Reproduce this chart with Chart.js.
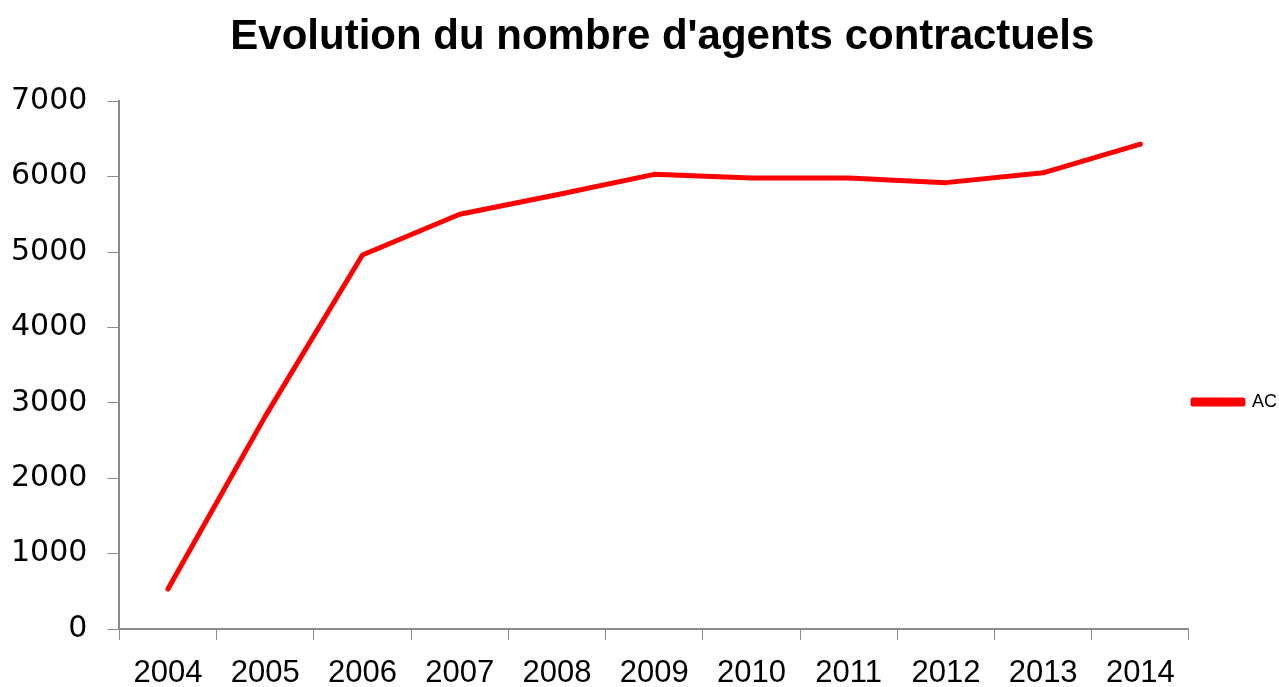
<!DOCTYPE html>
<html>
<head>
<meta charset="utf-8">
<script src="https://cdn.jsdelivr.net/npm/chart.js@4/dist/chart.umd.min.js"></script>
<style>
  body { margin: 0; background: #fff; }
</style>
</head>
<body>
<canvas id="grafico" width="1279" height="687"></canvas>
<script>
const annees = ['2004', '2005', '2006', '2007', '2008', '2009', '2010', '2011', '2012', '2013', '2014'];
const agentsAC = [530, 2820, 4960, 5500, 5760, 6030, 5980, 5980, 5920, 6050, 6430];
const ticksY = [0, 1000, 2000, 3000, 4000, 5000, 6000, 7000];

const gris = '#8c8c8c';

const ctx = document.getElementById('grafico').getContext('2d');
const grafico = new Chart(ctx, {
  type: 'line',
  data: {
    labels: annees,
    datasets: [{
      label: 'AC',
      data: agentsAC,
      borderColor: '#ff0000',
      backgroundColor: '#ff0000',
      borderWidth: 5,
      pointRadius: 0,
      tension: 0,
      borderCapStyle: 'round',
      borderJoinStyle: 'round'
    }]
  },
  options: {
    responsive: false,
    animation: false,
    layout: { padding: { left: -9, right: -8, top: 8, bottom: -20 } },
    plugins: {
      title: {
        display: true,
        // espaces insécables pour décaler le titre vers la droite
        text: "\u00a0\u00a0\u00a0\u00a0Evolution du nombre d'agents contractuels",
        color: '#000',
        font: { family: 'Liberation Sans, sans-serif', size: 42, weight: 'bold', lineHeight: 1.1 },
        padding: { top: 6, bottom: 41 }
      },
      legend: {
        position: 'right',
        title: { display: true, text: ' ', padding: { top: 88, bottom: 0 }, font: { size: 1 } },
        labels: {
          boxWidth: 50,
          boxHeight: 4,
          padding: 4,
          color: '#000',
          font: { family: 'Liberation Sans, sans-serif', size: 18 }
        }
      },
      tooltip: { enabled: false }
    },
    scales: {
      x: {
        offset: true,
        grid: { display: true, offset: true, drawOnChartArea: false, drawTicks: true, tickLength: 11, color: gris },
        border: { display: true, color: gris, width: 2 },
        ticks: {
          color: '#000',
          padding: 18,
          maxRotation: 0,
          font: { family: 'Liberation Sans, sans-serif', size: 31, lineHeight: 1 }
        }
      },
      y: {
        min: 0,
        max: 7000,
        afterBuildTicks: axis => { axis.ticks = ticksY.map(v => ({ value: v })); },
        grid: { display: true, drawOnChartArea: false, drawTicks: true, tickLength: 12, color: gris },
        border: { display: true, color: gris, width: 2 },
        ticks: {
          color: '#000',
          padding: 20,
          callback: v => String(v),
          font: { family: 'DejaVu Sans, sans-serif', size: 30 }
        }
      }
    }
  }
});
</script>
</body>
</html>
